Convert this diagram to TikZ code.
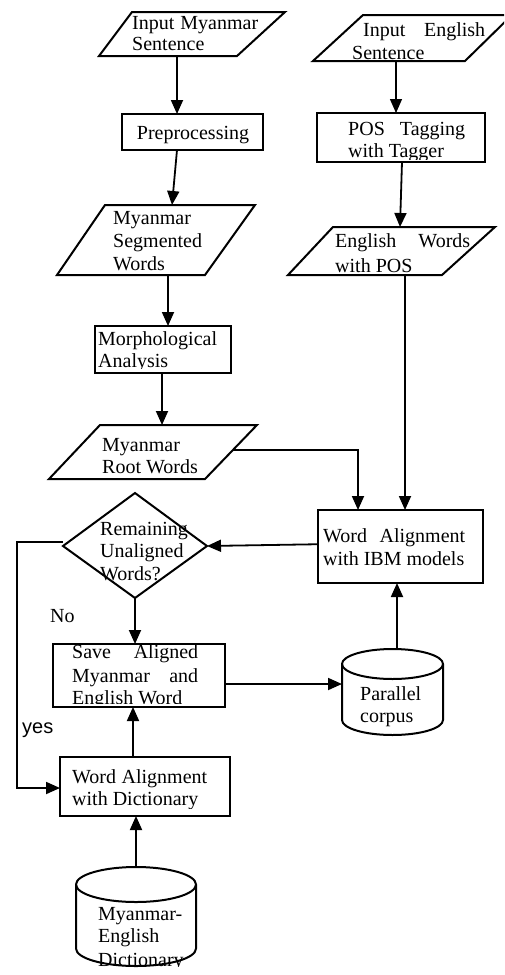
\documentclass[tikz,border=0pt]{standalone}
\usepackage{fontspec}
\setmainfont{Liberation Serif}
\newfontfamily\yesfont{Liberation Sans}
\usetikzlibrary{arrows.meta,calc}
\tikzset{
  shp/.style={draw=black, line width=2pt, line join=miter},
  rect/.style={draw=black, line width=2pt, rectangle, anchor=north west, inner sep=0pt, outer sep=0pt},
  arr/.style={draw=black, line width=1.8pt, -{Triangle[length=14pt,width=12pt]}},
  thinarr/.style={draw=black, line width=1.3pt, -{Triangle[length=14pt,width=12pt]}},
  txt/.style={anchor=base west, inner sep=0pt, font=\fontsize{20}{22}\selectfont},
  ctxt/.style={anchor=base, inner sep=0pt, font=\fontsize{20}{22}\selectfont}
}
\begin{document}
\begin{tikzpicture}[x=1pt,y=-1pt]
\useasboundingbox (0,0) rectangle (504,975);
\clip (0,0) rectangle (504,975);

% ---------- Left column ----------
% Input Myanmar Sentence
\draw[shp] (132,12) -- (285,12) -- (237,56) -- (99,56) -- cycle;
\node[txt] (ims1) at (132,29) {\makebox[126pt][s]{Input Myanmar}};
\node[txt] (ims2) at (132,50) {Sentence};
\coordinate (imsB) at (177,57);

% Preprocessing
\node[rect, minimum width=141pt, minimum height=36pt] (pre) at (122,114) {};
\node[ctxt] (pret) at (193,139) {Preprocessing};

% Myanmar Segmented Words
\draw[shp] (105,205) -- (255,205) -- (205,275) -- (57,275) -- cycle;
\node[txt] (msw1) at (113,224) {Myanmar};
\node[txt] (msw2) at (113,247) {Segmented};
\node[txt] (msw3) at (113,270) {Words};
\coordinate (mswT) at (172,205);
\coordinate (mswB) at (168,276);

% Morphological Analysis
\node[rect, minimum width=136pt, minimum height=47pt] (morph) at (95,326) {};
\begin{scope}
\clip (95,326) rectangle (231,368);
\node[txt] (mor1) at (98,345) {Morphological};
\node[txt] (mor2) at (98,367) {Analysis};
\end{scope}

% Myanmar Root Words
\draw[shp] (100,425) -- (257,425) -- (205,479) -- (49,479) -- cycle;
\node[txt] (mrw1) at (102,451) {Myanmar};
\node[txt] (mrw2) at (102,473) {Root Words};
\coordinate (mrwT) at (162,425);
\coordinate (mrwR) at (233,450);

% Decision diamond
\draw[shp] (63,546) -- (135,493) -- (207,546) -- (135,598) -- cycle;
\node[txt] (dia1) at (100,535) {Remaining};
\node[txt] (dia2) at (100,557) {Unaligned};
\node[txt] (dia3) at (100,580) {Words?};
\coordinate (diaR) at (207,546);
\coordinate (diaL) at (63,542);
\coordinate (diaB) at (135,598);
\coordinate (corner1) at (17,542);
\coordinate (corner2) at (17,788);

\node[txt] (no) at (50,622) {No};
\node[anchor=base west, inner sep=0pt, font=\yesfont\fontsize{20}{22}\selectfont] (yes) at (22,733) {yes};

% Save Aligned Myanmar and English Word
\node[rect, minimum width=172pt, minimum height=63pt] (save) at (53,644) {};
\begin{scope}
\clip (53,644) rectangle (225,703);
\node[txt] (sav1) at (72,658) {\makebox[126pt][s]{Save Aligned}};
\node[txt] (sav2) at (72,682) {\makebox[126pt][s]{Myanmar and}};
\node[txt] (sav3) at (72,704) {English Word};
\end{scope}

% Word Alignment with Dictionary
\node[rect, minimum width=170pt, minimum height=59pt] (dict) at (60,757) {};
\begin{scope}
\clip (60,757) rectangle (230,808);
\node[txt] (dic1) at (72,783) {\makebox[135pt][s]{Word Alignment}};
\node[txt] (dic2) at (72,805) {with Dictionary};
\end{scope}

% Myanmar-English Dictionary cylinder
\draw[shp] (76,884.5) -- (76,948.5)
  arc[start angle=180, end angle=360, x radius=60pt, y radius=17.5pt]
  -- (196,884.5)
  arc[start angle=0, end angle=180, x radius=60pt, y radius=17.5pt] -- cycle;
\draw[shp] (76,884.5) arc[start angle=180, end angle=360, x radius=60pt, y radius=17.5pt];
\begin{scope}
\clip (76,895) rectangle (196,966);
\node[txt] (med1) at (98,920) {Myanmar-};
\node[txt] (med2) at (98,942) {English};
\node[txt] (med3) at (98,966) {Dictionary};
\end{scope}
\coordinate (medT) at (136,867);

% ---------- Right column ----------
% Input English Sentence
\draw[shp] (363,15) -- (512,15) -- (465,61) -- (313,61) -- cycle;
\node[txt] (ies1) at (363,36) {\makebox[122pt][s]{Input English}};
\node[txt] (ies2) at (352,59) {Sentence};
\coordinate (iesB) at (396,61);

% POS Tagging with Tagger
\node[rect, minimum width=168pt, minimum height=49pt] (pos) at (317,113) {};
\begin{scope}
\clip (317,113) rectangle (485,159);
\node[txt] (pos1) at (348,135) {\makebox[117pt][s]{POS Tagging}};
\node[txt] (pos2) at (348,157) {with Tagger};
\end{scope}

% English Words with POS
\draw[shp] (333,227) -- (495,227) -- (442,275) -- (288,275) -- cycle;
\node[txt] (ewp1) at (335,247) {\makebox[135pt][s]{English Words}};
\node[txt] (ewp2) at (335,272) {with POS};
\coordinate (ewpT) at (400,227);
\coordinate (ewpB) at (405,276);

% Word Alignment with IBM models
\node[rect, minimum width=165pt, minimum height=73pt] (ibm) at (318,510) {};
\node[txt] (ibm1) at (323,542) {\makebox[142pt][s]{Word Alignment}};
\node[txt] (ibm2) at (323,565) {with IBM models};

% Parallel corpus cylinder
\draw[shp] (342,664) -- (342,720)
  arc[start angle=180, end angle=360, x radius=50.5pt, y radius=15pt]
  -- (443,664)
  arc[start angle=0, end angle=180, x radius=50.5pt, y radius=15pt] -- cycle;
\draw[shp] (342,664) arc[start angle=180, end angle=360, x radius=50.5pt, y radius=15pt];
\node[txt] (par1) at (360,700) {Parallel};
\node[txt] (par2) at (360,722) {corpus};
\coordinate (parT) at (397,649);
\coordinate (parL) at (342,684);

% ---------- Connectors ----------
\draw[arr] (imsB) -- (imsB |- pre.north);
\draw[arr] ($(pre.south west)+(55,0)$) -- (mswT);
\draw[arr] (mswB) -- (mswB |- morph.north);
\draw[arr] ($(morph.south west)+(67,0)$) -- (mrwT);
\draw[arr] (mrwR) -- (358,450) -- (358,510);
\draw[thinarr] (iesB) -- (iesB |- pos.north);
\draw[arr] ($(pos.south west)+(85,0)$) -- (ewpT);
\draw[arr] (ewpB) -- (ewpB |- ibm.north);
\draw[arr] ($(ibm.north west)!0.469!(ibm.south west)$) -- (diaR);
\draw[arr] (diaB) -- (diaB |- save.north);
\draw[arr] (diaL) -- (corner1) -- (corner2) -- (corner2 -| dict.west);
\draw[arr] ($(save.north east)!0.635!(save.south east)$) -- (parL);
\draw[arr] (parT) -- (parT |- ibm.south);
\draw[arr] ($(dict.north west)+(73,0)$) -- ($(save.south west)+(80,0)$);
\draw[arr] (medT) -- (medT |- dict.south);
\end{tikzpicture}
\end{document}
